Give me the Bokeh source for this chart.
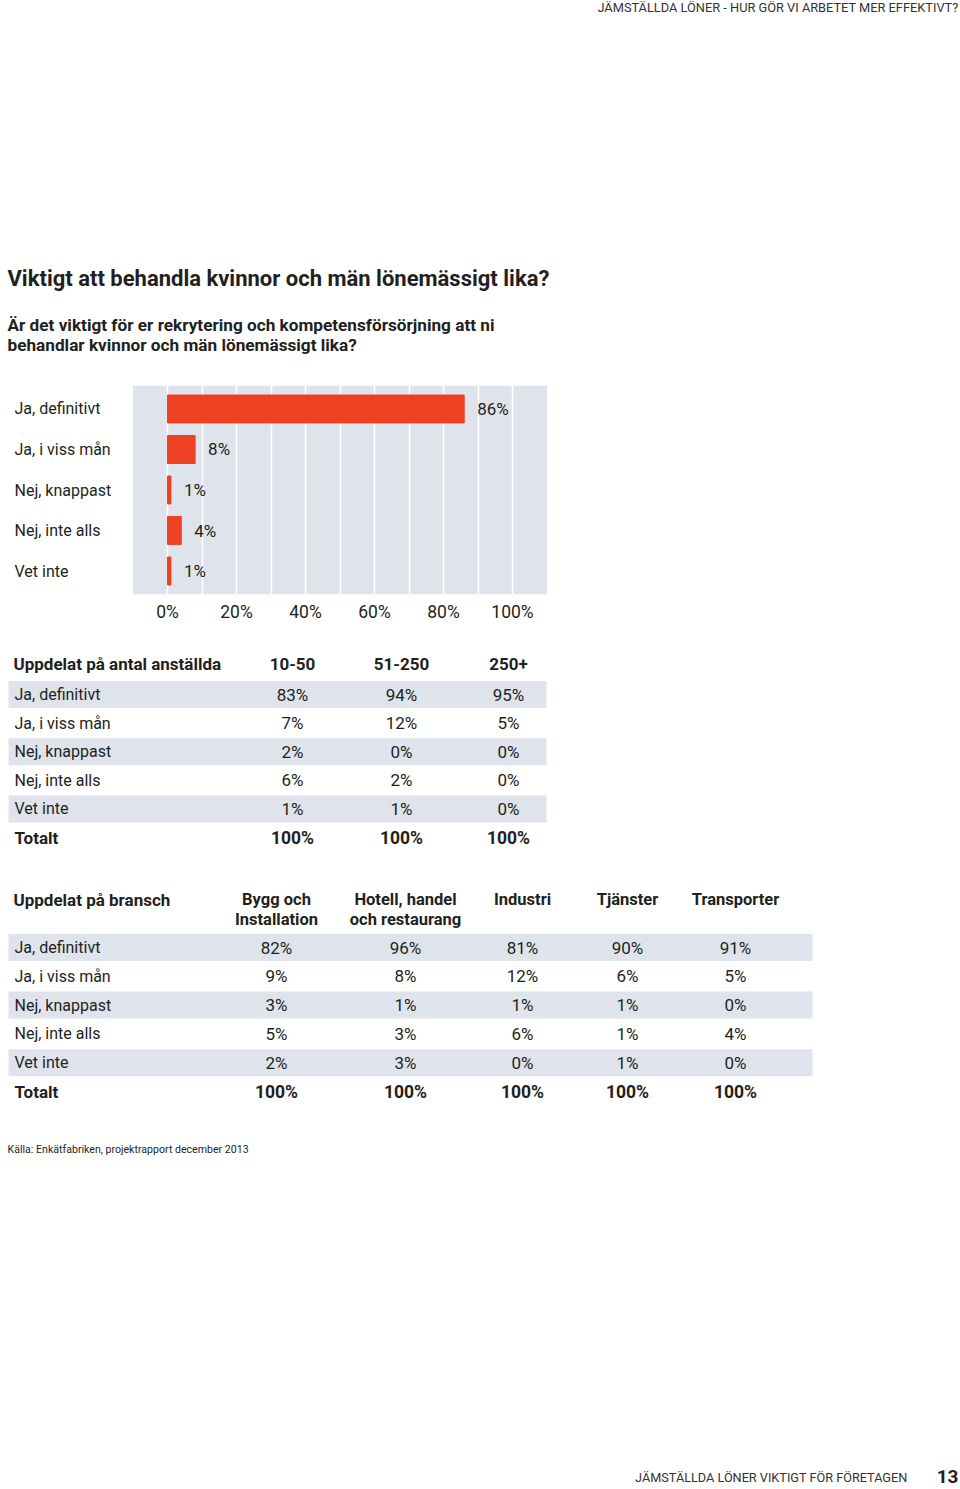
from bokeh.plotting import figure
from bokeh.models import Range1d, FactorRange, FixedTicker, BoxAnnotation
from bokeh.layouts import column
from bokeh.embed import file_html
from bokeh.resources import INLINE
from bokeh.core.properties import value

# ---------------- data ----------------
header_text = "JÄMSTÄLLDA LÖNER - HUR GÖR VI ARBETET MER EFFEKTIVT?"
title_text = "Viktigt att behandla kvinnor och män lönemässigt lika?"
subtitle_lines = ["Är det viktigt för er rekrytering och kompetensförsörjning att ni",
                  "behandlar kvinnor och män lönemässigt lika?"]
categories = ["Ja, definitivt", "Ja, i viss mån", "Nej, knappast", "Nej, inte alls", "Vet inte"]
overall = [86, 8, 1, 4, 1]
x_ticks = [0, 20, 40, 60, 80, 100]
x_tick_labels = ["0%", "20%", "40%", "60%", "80%", "100%"]

size_title = "Uppdelat på antal anställda"
size_groups = ["10-50", "51-250", "250+"]
size_10_50 = [83, 7, 2, 6, 1]
size_51_250 = [94, 12, 0, 2, 1]
size_250p = [95, 5, 0, 0, 0]
size_totals = [100, 100, 100]

branch_title = "Uppdelat på bransch"
branch_groups = [["Bygg och", "Installation"], ["Hotell, handel", "och restaurang"],
                 ["Industri"], ["Tjänster"], ["Transporter"]]
bygg = [82, 9, 3, 5, 2]
hotell = [96, 8, 1, 3, 3]
industri = [81, 12, 1, 6, 0]
tjanster = [90, 6, 1, 1, 1]
transporter = [91, 5, 0, 4, 0]
branch_totals = [100, 100, 100, 100, 100]
total_label = "Totalt"

source_text = "Källa: Enkätfabriken, projektrapport december 2013"
footer_text = "JÄMSTÄLLDA LÖNER VIKTIGT FÖR FÖRETAGEN"
page_number = "13"

# ---------------- style ----------------
FONT = "Roboto"
INK = "#231f20"
RED = "#ee4123"
BAND = "#dfe4ec"
W = 960
LABEL_PX = 16     # row labels
NUM_PX = 17       # percentages
HEAD_PX = 17      # bold table headers
COLHEAD_PX = 16.5
TOTAL_PX = 17.5


def pct(v):
    return f"{v}%"


def txt(fig, x, y, s, size, bold=False, align="left", color=INK):
    fig.text(x=[x], y=[y], text=[s], text_align=align, text_baseline="middle",
             text_font=value(FONT), text_font_size=f"{size}px",
             text_font_style="bold" if bold else "normal", text_color=color)


def canvas(h, y0):
    f = figure(width=W, height=h, x_range=Range1d(0, W), y_range=Range1d(y0 + h, y0),
               x_axis_type=None, y_axis_type=None, output_backend="svg",
               toolbar_location=None, min_border=0)
    f.grid.visible = False
    f.outline_line_color = None
    return f


# ---------------- top texts ----------------
top = canvas(380, 0)
txt(top, 958, 7, header_text, 12.8, color="#333333", align="right")
txt(top, 7, 278, title_text, 22, bold=True)
txt(top, 7, 324, subtitle_lines[0], 17.2, bold=True)
txt(top, 7, 344, subtitle_lines[1], 17.2, bold=True)

# ---------------- bar chart ----------------
PX_PER_PCT = 3.45      # horizontal scale of the bar chart (layout)
ZERO_PX = 167          # where 0% sits on the page (layout)
x_start = -ZERO_PX / PX_PER_PCT
x_end = x_start + W / PX_PER_PCT
bar = figure(width=W, height=250, x_range=Range1d(x_start, x_end),
             y_range=FactorRange(factors=list(reversed(categories)), range_padding=0.08,
                                 range_padding_units="absolute"),
             y_axis_location=None, output_backend="svg", toolbar_location=None,
             min_border_left=0, min_border_right=0, min_border_top=5, min_border_bottom=36)
bar.outline_line_color = None
bar.add_layout(BoxAnnotation(left=-10, right=110, fill_color=BAND, fill_alpha=1,
                             line_color=None, level="image"))
bar.ygrid.visible = False
bar.xgrid.ticker = FixedTicker(ticks=list(range(0, 101, 10)))
bar.xgrid.grid_line_color = "white"
bar.xgrid.grid_line_width = 1.5
bar.hbar(y=categories, left=0, right=overall, height=0.69, color=RED)
bar.text(x=overall, y=categories, text=[pct(v) for v in overall], x_offset=13,
         text_baseline="middle", text_font=value(FONT), text_font_size=f"{NUM_PX}px",
         text_color=INK)
bar.text(x=[x_start] * len(categories), y=categories, text=categories, x_offset=14,
         text_baseline="middle", text_font=value(FONT), text_font_size=f"{LABEL_PX}px",
         text_color=INK)
ax = bar.xaxis[0]
ax.ticker = FixedTicker(ticks=x_ticks)
ax.major_label_overrides = {t: l for t, l in zip(x_ticks, x_tick_labels)}
ax.axis_line_color = None
ax.major_tick_line_color = None
ax.minor_tick_line_color = None
ax.major_label_standoff = 1
ax.major_label_text_font = FONT
ax.major_label_text_font_size = "17.5px"
ax.major_label_text_color = INK

# ---------------- tables ----------------
bot = canvas(859, 630)

# table 1
t1_head_y = 663
t1_row0, t1_pitch = 694, 28.6
t1_cols = [292, 401, 508]
t1_series = [size_10_50, size_51_250, size_250p]
t1_rows = [t1_row0 + i * t1_pitch for i in range(len(categories) + 1)]
for i in range(0, len(categories), 2):
    bot.quad(left=8, right=546, top=t1_rows[i] - 13.5, bottom=t1_rows[i] + 13.5,
             color=BAND, line_color=None)
txt(bot, 13, t1_head_y, size_title, HEAD_PX, bold=True)
for cx, g in zip(t1_cols, size_groups):
    txt(bot, cx, t1_head_y, g, HEAD_PX, bold=True, align="center")
for i, c in enumerate(categories):
    txt(bot, 14, t1_rows[i], c, LABEL_PX)
    for cx, s in zip(t1_cols, t1_series):
        txt(bot, cx, t1_rows[i], pct(s[i]), NUM_PX, align="center")
txt(bot, 14, t1_rows[-1], total_label, HEAD_PX, bold=True)
for cx, v in zip(t1_cols, size_totals):
    txt(bot, cx, t1_rows[-1], pct(v), TOTAL_PX, bold=True, align="center")

# table 2
t2_head_y = 899
t2_row0, t2_pitch = 947, 28.8
t2_cols = [276, 405, 522, 627, 735]
t2_series = [bygg, hotell, industri, tjanster, transporter]
t2_rows = [t2_row0 + i * t2_pitch for i in range(len(categories) + 1)]
for i in range(0, len(categories), 2):
    bot.quad(left=8, right=812, top=t2_rows[i] - 13.5, bottom=t2_rows[i] + 13.5,
             color=BAND, line_color=None)
txt(bot, 13, t2_head_y, branch_title, HEAD_PX, bold=True)
for cx, g in zip(t2_cols, branch_groups):
    for k, line in enumerate(g):
        txt(bot, cx, t2_head_y + 20 * k, line, COLHEAD_PX, bold=True, align="center")
for i, c in enumerate(categories):
    txt(bot, 14, t2_rows[i], c, LABEL_PX)
    for cx, s in zip(t2_cols, t2_series):
        txt(bot, cx, t2_rows[i], pct(s[i]), NUM_PX, align="center")
txt(bot, 14, t2_rows[-1], total_label, HEAD_PX, bold=True)
for cx, v in zip(t2_cols, branch_totals):
    txt(bot, cx, t2_rows[-1], pct(v), TOTAL_PX, bold=True, align="center")

# source and footer
txt(bot, 7, 1149, source_text, 10.6)
txt(bot, 907, 1477, footer_text, 12.7, color="#333333", align="right")
txt(bot, 958, 1476, page_number, 19, bold=True, align="right")

layout = column(top, bar, bot, spacing=0)
open("out.html", "w").write(file_html(layout, INLINE))
